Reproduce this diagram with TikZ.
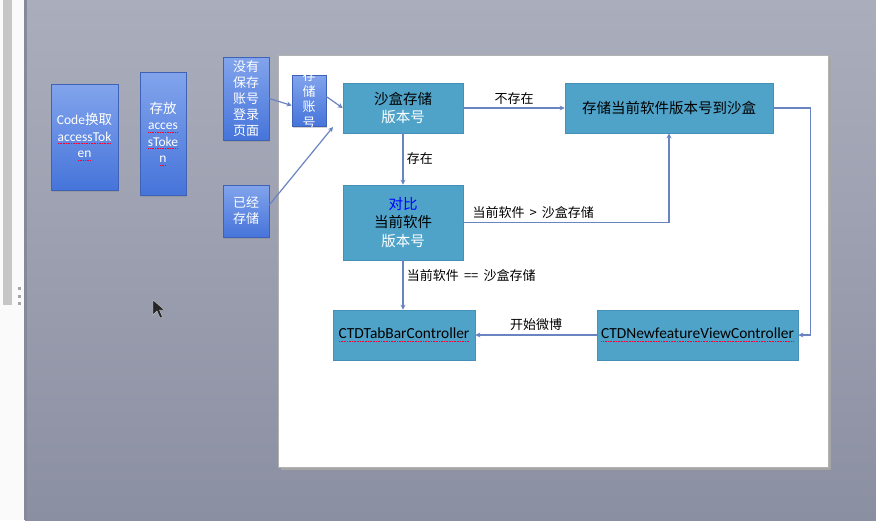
\documentclass[tikz,border=0pt]{standalone}
\usepackage{fontspec}
\setmainfont{Carlito}
\newfontfamily\cjk{Noto Sans CJK SC}
\usetikzlibrary{arrows.meta}
\usetikzlibrary{shadows}

\definecolor{deskTop}{HTML}{AAAEBC}
\definecolor{deskBot}{HTML}{8B8FA2}
\definecolor{deskEdge}{HTML}{85899A}
\definecolor{tealFill}{HTML}{4FA3C9}
\definecolor{tealEdge}{HTML}{4590B8}
\definecolor{gradTop}{HTML}{82A4EC}
\definecolor{gradBot}{HTML}{4674DA}
\definecolor{gradEdge}{HTML}{3E63B6}
\definecolor{linkBlue}{HTML}{6A84C2}

\newcommand\redwave[1]{\setbox0\hbox{#1}\leavevmode\rlap{\raisebox{-2.8pt}{\textcolor{red!80!magenta}{\hbox to \wd0{\xleaders\hbox to 1.6pt{\hss\rule{0.9pt}{0.7pt}\hss}\hfill}}}}\box0}

\tikzset{
  gradbox/.style={draw=gradEdge, line width=0.6pt, top color=gradTop, bottom color=gradBot,
    text=white, align=center, inner sep=0pt,
    drop shadow={opacity=0.35, shadow xshift=1pt, shadow yshift=-1.5pt},
    font=\fontsize{13.5}{16.5}\selectfont},
  cjkbox/.style={gradbox, font=\cjk\fontsize{13}{16}\selectfont},
  tealbox/.style={draw=tealEdge, line width=0.6pt, fill=tealFill, align=center, inner sep=0pt,
    font=\cjk\fontsize{14.5}{18.5}\selectfont},
  ctrlbox/.style={tealbox, font=\fontsize{15.4}{18}\selectfont},
  link/.style={draw=linkBlue, line width=1.2pt, -{Stealth[length=5pt,width=5pt]}},
  lbl/.style={font=\cjk\fontsize{13}{16}\selectfont, text=black}
}

\begin{document}
\begin{tikzpicture}[x=1pt, y=-1pt]
\useasboundingbox (0, 0) rectangle (876, 520);

\shade[top color=deskTop, bottom color=deskBot] (25, 0) rectangle (876, 520);
\fill[white!96!gray] (0, 0) rectangle (25, 520);
\fill[gray!45] (3, 0) rectangle (12, 305);
\fill[gray!70] (18, 287) rectangle (21, 290);
\fill[gray!70] (18, 295) rectangle (21, 298);
\fill[gray!70] (18, 302) rectangle (21, 305);
\fill[deskEdge] (24, 0) rectangle (27, 520);

\fill[black!35] (281, 58) rectangle (831, 470);
\fill[white] (278, 55) rectangle (828, 467);
\draw[gray!60, line width=0.5pt] (278, 55) rectangle (828, 467);

\node[gradbox, minimum width=67pt, minimum height=106pt] (token)   at ( 84.5, 137.0) {Code{\cjk 换取}\\\redwave{accessTok}\\\redwave{en}};
\node[gradbox, minimum width=46pt, minimum height=123pt] (save)    at (163.0, 133.5) {{\cjk 存放}\\\redwave{acces}\\\redwave{sToke}\\\redwave{n}};
\node[cjkbox,  minimum width=46pt, minimum height=83pt]  (nologin) at (246.0,  98.5) {没有\\保存\\账号\\登录\\页面};
\node[cjkbox,  minimum width=46pt, minimum height=52pt]  (stored)  at (246.0, 211.0) {已经\\存储};
\node[cjkbox,  minimum width=34pt, minimum height=51pt]  (account) at (309.0, 100.5) {};
\begin{scope}
\clip (account.north west) rectangle (account.south east);
\node[text=white, align=center, inner sep=0pt, font=\cjk\fontsize{13}{15.5}\selectfont] at (309.0, 99.0) {存\\储\\账\\号};
\end{scope}

\node[tealbox, minimum width=120pt, minimum height=50pt] (sandbox) at (403.0, 108.0) {沙盒存储\\\textcolor{white}{版本号}};
\node[tealbox, minimum width=208pt, minimum height=50pt] (write)   at (669.0, 108.0) {存储当前软件版本号到沙盒};
\node[tealbox, minimum width=120pt, minimum height=75pt] (compare) at (403.0, 222.5) {\textcolor{blue}{对比}\\当前软件\\\textcolor{white}{版本号}};
\node[ctrlbox, minimum width=142pt, minimum height=50pt] (tabbar)  at (404.0, 335.0) {\redwave{CTDTabBarController}};
\node[ctrlbox, minimum width=201pt, minimum height=50pt] (newfeat) at (697.5, 335.0) {\redwave{CTDNewfeatureViewController}};

\coordinate (hit) at (333, 127);

\draw[link] (nologin.east) -- ([yshift=-5pt]account.west);
\draw[link] ([yshift=4pt]account.east) -- (sandbox.west);
\draw[link] ([yshift=6pt]stored.east) -- (hit);

\draw[link] (sandbox) -- node[lbl, above] {不存在} (write);
\draw[link] (sandbox) -- node[lbl, right] {存在} (compare);
\draw[link] (compare.east) -| node[lbl, above, pos=0.17] {当前软件 \,>\, 沙盒存储} (write.south);
\draw[link] (compare.south) -- node[lbl, right, pos=0.3] {当前软件 \,==\, 沙盒存储} (compare.south |- tabbar.north);
\draw[link] (newfeat) -- node[lbl, above] {开始微博} (tabbar);
\draw[link] (write.east) -- ++(37, 0) |- (newfeat.east);

\fill[black!85, draw=gray!40, line width=0.4pt] (153, 300) -- (153, 315) -- (157, 311) -- (160, 318)
  -- (162.5, 317) -- (159.5, 310) -- (164.5, 310) -- cycle;

\end{tikzpicture}
\end{document}
